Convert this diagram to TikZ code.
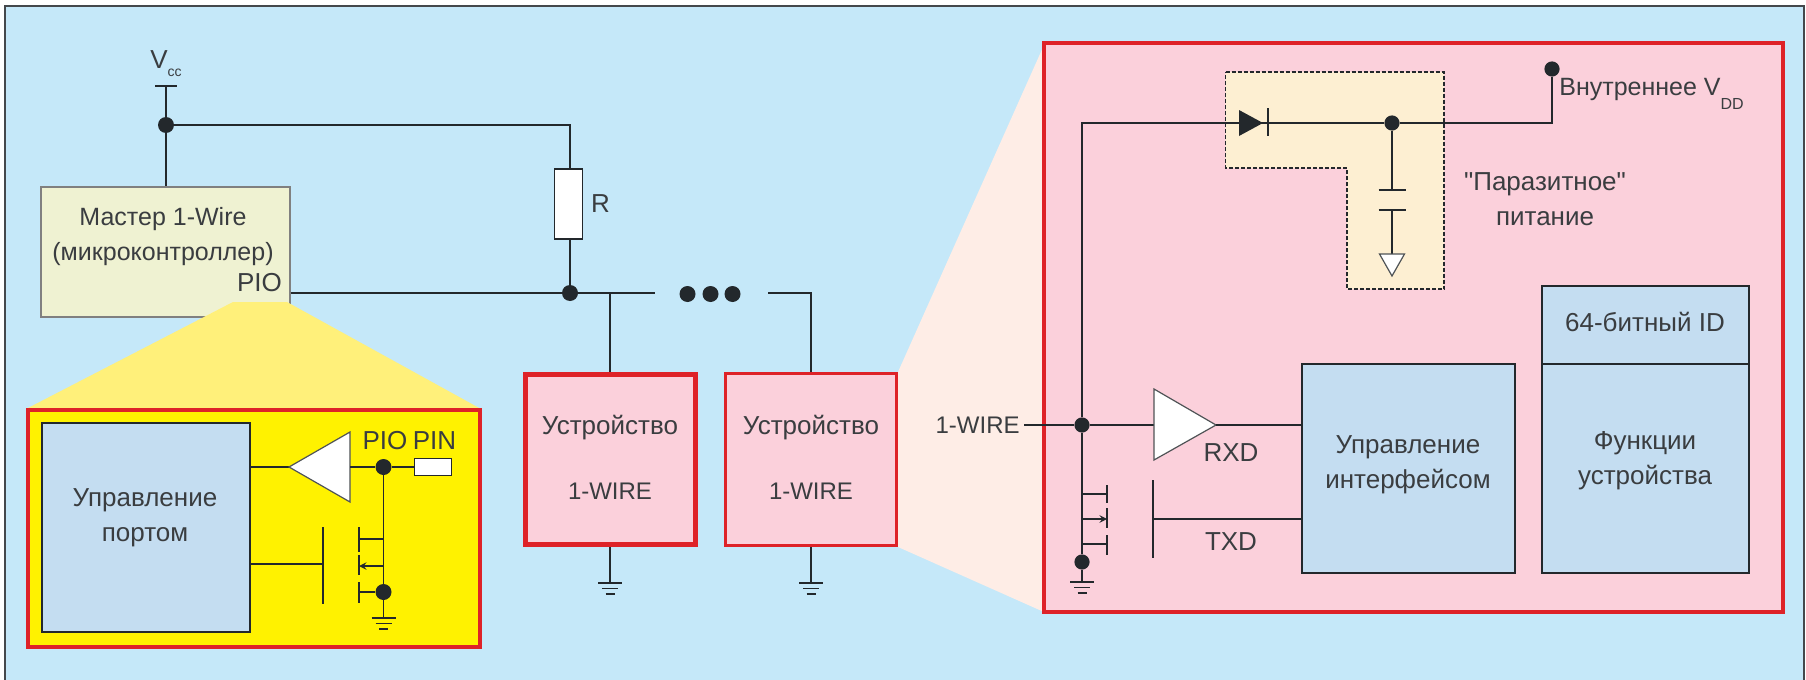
\documentclass[tikz,border=0pt]{standalone}
\usepackage{fontspec}
\setmainfont{Liberation Sans}
\newfontfamily\quotefont{Liberation Sans}
\usetikzlibrary{positioning}
\definecolor{skybg}{HTML}{C5E8F9}
\definecolor{redline}{HTML}{DE2228}
\definecolor{pinkfill}{HTML}{FBD0DB}
\definecolor{bluefill}{HTML}{C4DDF1}
\definecolor{portyellow}{HTML}{FFF200}
\definecolor{zoomyellow}{HTML}{FFF07A}
\definecolor{zoompeach}{HTML}{FEEDE6}
\definecolor{masterfill}{HTML}{EFF2D2}
\definecolor{zonefill}{HTML}{FDEFD2}
\definecolor{wirecol}{HTML}{23282C}
\definecolor{textcol}{HTML}{3A3D40}
\tikzset{
	wire/.style={draw=wirecol, line width=0.65pt},
	lbl/.style={inner sep=0pt, text=textcol, font=\fontsize{13}{17.5}\selectfont, align=center},
	dot/.style={circle, fill=wirecol, inner sep=0pt, minimum size=8pt},
	redbox/.style={rectangle, draw=redline, inner sep=0pt, line width=2pt, fill=pinkfill},
	bluebox/.style={rectangle, draw=wirecol, inner sep=0pt, line width=0.7pt, fill=bluefill},
	pinbox/.style={rectangle, draw=wirecol, inner sep=0pt, line width=0.6pt, fill=white},
	ampl/.style={draw=wirecol!80, line width=0.6pt, fill=white},
	gndsym/.pic={
		\draw[wire] (-12,0) -- (12,0);
		\draw[wire] (-8,5.5) -- (8,5.5);
		\draw[wire] (-4.5,11) -- (4.5,11);
	}
}
\begin{document}
\begin{tikzpicture}[x=0.5pt, y=-0.5pt]
		 \useasboundingbox (0,0) rectangle (1806,680);
		 % background %
		 \fill[skybg] (5,6) rectangle (1804,680);
		 \draw[draw=wirecol!85, line width=0.7pt] (5,680) -- (5,6) -- (1804,6) -- (1804,680);
		 \fill[zoompeach] (898,372) -- (1044,45) -- (1044,612) -- (898,547) -- cycle;

		 % nodes %
		 \node[rectangle, draw=black!50, line width=0.7pt, fill=masterfill, inner sep=0pt, minimum width=124.5pt, minimum height=65pt] (master) at (165.5,252) {};
		 \fill[zoomyellow] (233,302) -- (287,302) -- (481,409) -- (26,409) -- cycle;
		 \node[lbl, font=\fontsize{12.5}{17.5}\selectfont] (mastertext) at (163,236.5) {Мастер 1-Wire\\(микроконтроллер)};
		 \node[lbl] (pio) at (259.5,283) {PIO};
		 \node[lbl] (vcc) at (166,64) {V\raisebox{-0.6ex}{\fontsize{7}{8}\selectfont cc}};
		 \node[pinbox, minimum width=14pt, minimum height=35pt] (rbox) at (568.5,204) {};
		 \node[lbl, right of = rbox, node distance=16pt] (rtext) {R};
		 \node[dot] (vccdot) at (166,125) {};
		 \node[dot] (busdot) at (570,293) {};
		 \coordinate (vcctop) at (166,86);
		 \coordinate (busend) at (655,293);
		 \coordinate (busstart) at (768,293);

		 % ellipsis dots %
		 \node[dot] (dota) at (687.5,294) {};
		 \node[dot, right of = dota, node distance=11.5pt] (dotb) {};
		 \node[dot, right of = dotb, node distance=11pt] (dotc) {};

		 % devices %
		 \node[redbox, line width=2.5pt, minimum width=85pt, minimum height=85pt] (dev1) at (610,459.5) {};
		 \node[redbox, line width=1.8pt, minimum width=85.5pt, minimum height=86pt, right of = dev1, node distance=100.5pt] (dev2) {};
		 \node[lbl] (dev1text) at (610,457.5) {Устройство\\[15pt]{\fontsize{12}{17.5}\selectfont 1-WIRE}};
		 \node[lbl] (dev2text) at (811,457.5) {Устройство\\[15pt]{\fontsize{12}{17.5}\selectfont 1-WIRE}};
		 \coordinate (dev1gnd) at (610,583);
		 \coordinate (dev2gnd) at (811,583);

		 % port box %
		 \node[redbox, line width=2pt, fill=portyellow, minimum width=226pt, minimum height=118.5pt] (port) at (253.5,528) {};
		 \node[bluebox, minimum width=104pt, minimum height=104.5pt] (portctl) at (146,527.5) {};
		 \node[lbl] (portctltext) at (145,517.5) {Управление\\портом};
		 \node[lbl] (piolabel) at (385,441) {PIO};
		 \node[lbl] (pinlabel) at (434.5,441) {PIN};
		 \node[pinbox, minimum width=18.5pt, minimum height=8.5pt] (pinres) at (433,467) {};
		 \node[dot] (piodot) at (383.5,467) {};
		 \node[dot] (srcdot) at (383.5,592) {};
		 \coordinate (porttipl) at (289,467);
		 \coordinate (porttipr) at (350,467);
		 \coordinate (portgnd) at (383.5,618);
		 \coordinate (portgate) at (323,564);
		 \coordinate (portdrain) at (359,539);
		 \coordinate (portbody) at (359,566);
		 \coordinate (portsrc) at (359,592);

		 % device detail %
		 \node[redbox, minimum width=369.5pt, minimum height=284.5pt] (detail) at (1413.5,327.5) {};
		 \filldraw[fill=zonefill, draw=wirecol, line width=0.6pt, dash pattern=on 2pt off 1pt] (1225.5,72) -- (1444,72) -- (1444,289) -- (1347,289) -- (1347,168) -- (1225.5,168) -- cycle;
		 \node[dot, minimum size=7.6pt] (diodedot) at (1392,123) {};
		 \node[dot, minimum size=7.6pt] (vdddot) at (1552,69) {};
		 \node[dot, minimum size=7.6pt] (linedot) at (1082,425) {};
		 \node[dot, minimum size=7.6pt] (lowdot) at (1082,562) {};
		 \node[lbl, anchor=west, font=\fontsize{12.5}{17.5}\selectfont] (vddtext) at (1559,94) {Внутреннее V\raisebox{-1ex}{\fontsize{8}{9}\selectfont DD}};
		 \node[lbl] (parasite) at (1545,199.5) {{\quotefont"}Паразитное{\quotefont"}\\питание};
		 \node[lbl, anchor=east, font=\fontsize{12}{17.5}\selectfont] (wiretext) at (1020,425) {1-WIRE};
		 \node[lbl] (rxd) at (1231,453) {RXD};
		 \node[lbl] (txd) at (1231,542) {TXD};
		 \node[bluebox, minimum width=106.5pt, minimum height=104.5pt] (iface) at (1408.5,468.5) {};
		 \node[lbl] (ifacetext) at (1408,464.5) {Управление\\интерфейсом};
		 \node[bluebox, minimum width=103.5pt, minimum height=39pt] (idbox) at (1645.5,325) {};
		 \node[bluebox, minimum width=103.5pt, minimum height=104.5pt] (funcbox) at (1645.5,468.5) {};
		 \node[lbl] (idtext) at (1645,322) {64-битный ID};
		 \node[lbl] (functext) at (1645,461) {Функции\\устройства};
		 \coordinate (wirein) at (1024,425);
		 \coordinate (cornertl) at (1082,123);
		 \coordinate (cornertr) at (1552,123);
		 \coordinate (diodein) at (1239,123);
		 \coordinate (diodeout) at (1268,123);
		 \coordinate (capa) at (1392,190);
		 \coordinate (capb) at (1392,210);
		 \coordinate (captri) at (1392,254);
		 \coordinate (tipin) at (1154,425);
		 \coordinate (tipout) at (1216,425);
		 \coordinate (txgate) at (1153,519);
		 \coordinate (txdrain) at (1107,494);
		 \coordinate (txbody) at (1107,519);
		 \coordinate (txsrc) at (1107,544);
		 \coordinate (detgnd) at (1082,582);

		 % edges %
		 \draw[wire] (vcctop) -- (vccdot);
		 \draw[wire] (vcc.south |- vcctop) ++(-11,0) -- ++(22,0);
		 \draw[wire] (vccdot) -- (vccdot |- master.north);
		 \draw[wire] (vccdot) -| (570,169);
		 \draw[wire] (570,239) -- (busdot);
		 \draw[wire] (master.east |- busend) -- (busdot);
		 \draw[wire] (busdot) -- (busend);
		 \draw[wire] (dev1.north |- busend) -- (dev1.north);
		 \draw[wire] (busstart) -| (dev2.north);
		 \draw[wire] (dev1.south) -- (dev1gnd);
		 \draw[wire] (dev2.south) -- (dev2gnd);
		 \pic at (dev1gnd) {gndsym};
		 \pic at (dev2gnd) {gndsym};

		 % port edges %
		 \draw[wire] (portctl.east |- porttipl) -- (porttipl);
		 \draw[ampl] (porttipl) -- (350,432) -- (350,502) -- cycle;
		 \draw[wire] (porttipr) -- (piodot);
		 \draw[wire] (piodot) -- (pinres.west);
		 \draw[wire] (piodot) -- (srcdot);
		 \draw[wire] (srcdot) -- (portgnd);
		 \pic at (portgnd) {gndsym};
		 \draw[wire] (portctl.east |- portgate) -- (portgate);
		 \draw[wire] (323,527) -- (323,604);
		 \draw[wire] (portdrain) -- (portdrain -| piodot);
		 \draw[wire, <-, >=stealth] (portbody) -- (portbody -| piodot);
		 \draw[wire] (portsrc) -- (srcdot);
		 \draw[wire] (359,527) -- (359,552) (359,555) -- (359,575) (359,582) -- (359,603);

		 % detail edges %
		 \draw[wire] (linedot) -- (cornertl) -- (diodein);
		 \fill[wirecol] (diodein) ++(0,-13) -- (1263,123) -- (1239,136) -- cycle;
		 \draw[wire] (1268,108) -- (1268,136);
		 \draw[wire] (diodein) -- (diodedot);
		 \draw[wire] (diodedot) -- (cornertr) -- (vdddot);
		 \draw[wire] (diodedot) -- (capa);
		 \draw[wire] (capa) ++(-13.5,0) -- ++(27,0);
		 \draw[wire] (capb) ++(-13.5,0) -- ++(27,0);
		 \draw[wire] (capb) -- (captri);
		 \draw[ampl] (1379.5,254) -- (1404.5,254) -- (1392,276) -- cycle;
		 \draw[wire] (wirein) -- (linedot);
		 \draw[wire] (linedot) -- (tipin);
		 \draw[ampl] (tipout) -- (1154,389) -- (1154,460) -- cycle;
		 \draw[wire] (tipout) -- (iface.west |- tipout);
		 \draw[wire] (txgate) -- (iface.west |- txgate);
		 \draw[wire] (1153,480) -- (1153,558);
		 \draw[wire] (linedot) -- (lowdot);
		 \draw[wire] (lowdot) -- (detgnd);
		 \pic at (detgnd) {gndsym};
		 \draw[wire] (txdrain) -- (txdrain -| linedot);
		 \draw[wire, ->, >=stealth] (txbody -| linedot) -- (txbody);
		 \draw[wire] (txsrc) -- (txsrc -| linedot);
		 \draw[wire] (1107,485) -- (1107,503) (1107,508) -- (1107,528) (1107,535) -- (1107,555);
\end{tikzpicture}
\end{document}
